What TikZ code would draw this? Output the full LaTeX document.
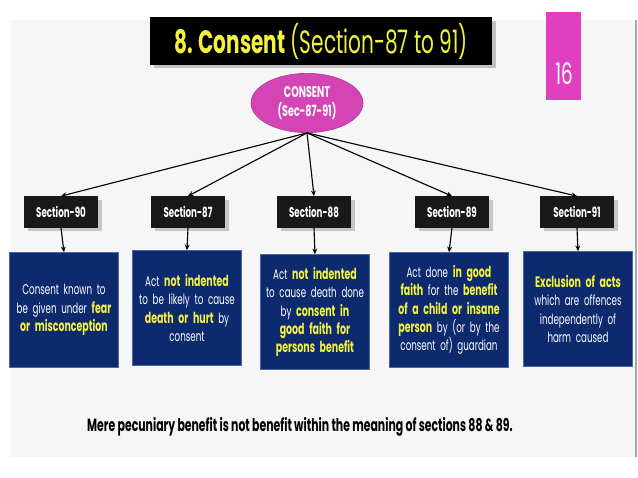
\documentclass[tikz,border=0pt]{standalone}
\usepackage{fontspec}
\setmainfont[FakeStretch=0.62]{Poppins}
\usetikzlibrary{shapes.geometric,shadows,arrows.meta}

\definecolor{hlyellow}{HTML}{F2F23C}
\definecolor{boxblue}{HTML}{0E2A6E}
\definecolor{boxedge}{HTML}{4A66A8}
\definecolor{conspink}{HTML}{D444B4}
\definecolor{pagepink}{HTML}{E040C0}
\definecolor{slidegray}{HTML}{F6F6F6}

\newcommand{\hl}[1]{{\color{hlyellow}\bfseries\fontsize{10.8}{13}\selectfont #1}}

\begin{document}
\begin{tikzpicture}[x=0.025cm, y=-0.025cm]
    % Styles
    \tikzstyle{titlebar} = [rectangle, fill=black, minimum width=8.55cm, minimum height=1.175cm, text=hlyellow, font=\fontsize{23}{26}\selectfont, drop shadow={opacity=0.45}]
    \tikzstyle{pagebox} = [rectangle, fill=pagepink, minimum width=0.875cm, minimum height=2.2cm]
    \tikzstyle{hub} = [ellipse, fill=conspink, draw=conspink!80!black, minimum width=2.8cm, minimum height=1.25cm, text=white, align=center, font=\bfseries\fontsize{11}{13}\selectfont]
    \tikzstyle{sect} = [rectangle, fill=black!90, text=white, minimum width=1.85cm, minimum height=0.78cm, font=\bfseries\fontsize{10}{12}\selectfont, drop shadow={opacity=0.4}]
    \tikzstyle{info} = [rectangle, fill=boxblue, draw=boxedge, text=white, minimum width=2.6cm, minimum height=2.875cm, text width=2.5cm, align=center, font=\fontsize{10}{13}\selectfont]
    \tikzstyle{arrow} = [-{Stealth[length=4pt, width=3.5pt]}, thick]

    % Page
    \useasboundingbox (0,0) rectangle (638,478);
    \fill[white] (0,0) rectangle (638,478);
    \fill[slidegray] (11,20) rectangle (636,457);
    \draw[gray!70, thick] (636,20) -- (636,457);

    % Nodes
    \node[titlebar] (ttl) at (321,41) {\textbf{8. Consent} (Section-87 to 91)};
    \node[pagebox] (pg) at (563,56) {};
    \node[text=white, font=\fontsize{21}{24}\selectfont] (pgnum) at (564,74) {16};
    \node[hub] (cons) at (307,103) {CONSENT\\(Sec-87-91)};

    \node[sect] (s90) at (61,212) {Section-90};
    \node[sect] (s87) at (188,212) {Section-87};
    \node[sect] (s88) at (314,212) {Section-88};
    \node[sect] (s89) at (452,212) {Section-89};
    \node[sect] (s91) at (577,212) {Section-91};

    \node[info] (b90) at (64,310) {Consent known to\\ be given under \hl{fear}\\ \hl{or misconception}};
    \node[info] (b87) at (187,308) {Act \hl{not indented}\\ to be likely to cause\\ \hl{death or hurt} by\\ consent};
    \node[info] (b88) at (315,312) {Act \hl{not indented}\\ to cause death done\\ by \hl{consent in}\\ \hl{good faith for}\\ \hl{persons benefit}};
    \node[info, minimum width=2.8cm, text width=2.75cm] (b89) at (449,310) {Act done \hl{in good}\\ \hl{faith} for the \hl{benefit}\\ \hl{of a child or insane}\\ \hl{person} by (or by the\\ consent of) guardian};
    \node[info] (b91) at (578,309) {\hl{Exclusion of acts}\\ which are offences\\ independently of\\ harm caused};

    \node[font=\bfseries\fontsize{12.5}{14}\selectfont] (note) at (300,427) {Mere pecuniary benefit is not benefit within the meaning of sections 88 \& 89.};

    % Arrows
    \foreach \s in {s90,s87,s88,s89,s91}
        \draw[arrow] (cons.south) -- (\s.north);
    \foreach \s/\b in {s90/b90,s87/b87,s88/b88,s89/b89,s91/b91}
        \draw[arrow] (\s.south) -- (\b.north);
\end{tikzpicture}
\end{document}
